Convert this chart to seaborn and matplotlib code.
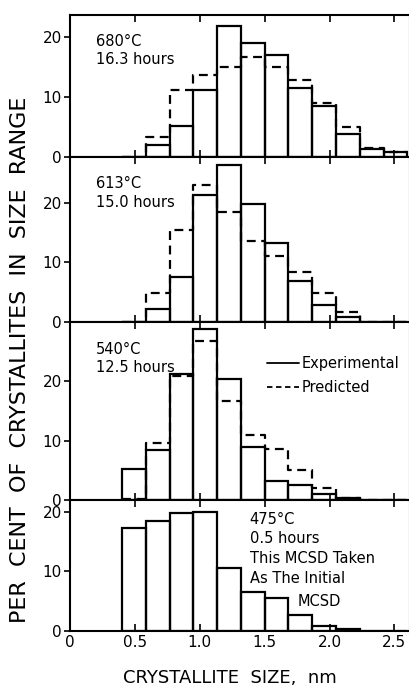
import numpy as np
import pandas as pd
import matplotlib
matplotlib.use("Agg")
import matplotlib.pyplot as plt
from matplotlib.lines import Line2D
import seaborn as sns

# size bins (nm), 12 equal bins from 0.4 to 2.6
bin_edges = np.linspace(0.4, 2.6, 13)
bin_centers = (bin_edges[:-1] + bin_edges[1:]) / 2

# per cent of crystallites in each size range
exp_680 = [0, 1.9, 5.1, 11.1, 21.9, 19.0, 17.1, 11.5, 8.4, 3.8, 1.2, 0.7]
pred_680 = [0, 3.2, 11.1, 13.6, 15.0, 16.7, 15.0, 12.9, 9.0, 4.9, 1.4, 0.8]
exp_613 = [0, 2.1, 7.6, 21.3, 26.3, 19.7, 13.2, 6.8, 2.9, 0.8, 0, 0]
pred_613 = [0, 4.9, 15.4, 22.9, 18.4, 13.6, 11.1, 8.3, 4.8, 1.6, 0, 0]
exp_540 = [5.2, 8.5, 21.2, 28.7, 20.4, 8.9, 3.2, 2.5, 1.0, 0.4, 0, 0]
pred_540 = [0.3, 9.6, 20.8, 26.7, 16.6, 11.0, 8.6, 5.1, 2.1, 0.4, 0, 0]
exp_475 = [17.3, 18.4, 19.7, 20.0, 10.5, 6.5, 5.6, 2.6, 0.9, 0.3, 0, 0]

panel_labels = ["680°C\n16.3 hours", "613°C\n15.0 hours", "540°C\n12.5 hours",
                "475°C\n0.5 hours\nThis MCSD Taken\nAs The Initial"]
y_tops = [23.7, 27.7, 29.9, 21.9]

panels = [(exp_680, pred_680), (exp_613, pred_613), (exp_540, pred_540), (exp_475, None)]

sns.set_style("ticks")
plt.rcParams["font.family"] = ["DejaVu Sans"]
plt.rcParams.update({"text.color": "black", "axes.labelcolor": "black",
                     "xtick.color": "black", "ytick.color": "black",
                     "axes.edgecolor": "black"})

fig = plt.figure(figsize=(4.1, 6.87), dpi=100)
gs = fig.add_gridspec(4, 1, height_ratios=y_tops, hspace=0,
                      left=0.171, right=1.0, top=0.978, bottom=0.0815)

label_y = [20.6, 24.4, 26.6]

axes = []
for i, (exp, pred) in enumerate(panels):
    ax = fig.add_subplot(gs[i])
    df = pd.DataFrame({"size": bin_centers, "exp": exp})
    sns.histplot(data=df, x="size", weights="exp", bins=12, binrange=(0.4, 2.6),
                 element="bars", fill=False, color="black", linewidth=1.6, ax=ax)
    if pred is not None:
        dfp = pd.DataFrame({"size": bin_centers, "pred": pred})
        sns.histplot(data=dfp, x="size", weights="pred", bins=12, binrange=(0.4, 2.6),
                     element="step", fill=False, color="black", linewidth=1.6,
                     linestyle=(0, (4, 2.5)), ax=ax)
    ax.set_xlim(0, 2.62)
    ax.set_ylim(0, y_tops[i])
    ax.set_xticks([0, 0.5, 1.0, 1.5, 2.0, 2.5])
    ax.set_yticks([0, 10, 20])
    ax.tick_params(axis="x", direction="in", top=True, length=5, width=1.2)
    ax.tick_params(axis="y", direction="out", length=4, width=1.2, labelsize=11, pad=2)
    ax.set_xlabel("")
    ax.set_ylabel("")
    for s in ax.spines.values():
        s.set_linewidth(1.5)
    if i < 3:
        ax.tick_params(axis="x", labelbottom=False)
        ax.text(0.2, label_y[i], panel_labels[i], fontsize=10.5,
                va="top", ha="left", linespacing=1.3)
    else:
        ax.text(1.385, 20.0, panel_labels[i], fontsize=10.5,
                va="top", ha="left", linespacing=1.4)
        ax.text(1.75, 6.2, "MCSD", fontsize=10.5, va="top", ha="left")
    axes.append(ax)

axes[3].set_xticklabels(["0", "0.5", "1.0", "1.5", "2.0", "2.5"])
axes[3].tick_params(axis="x", labelsize=11, pad=3)

handles = [Line2D([], [], color="black", linewidth=1.3),
           Line2D([], [], color="black", linewidth=1.3, linestyle=(0, (3, 2)))]
axes[2].legend(handles, ["Experimental", "Predicted"], frameon=False, fontsize=10.5,
               loc="upper left", bbox_to_anchor=(0.54, 0.88), handlelength=2.2,
               handletextpad=0.2, labelspacing=0.6)

fig.text(0.561, 0.006, "CRYSTALLITE  SIZE,  nm", fontsize=13, va="baseline", ha="center")
fig.text(0.048, 0.476, "PER  CENT  OF  CRYSTALLITES  IN  SIZE  RANGE", rotation=90,
         fontsize=16, va="center", ha="center")

fig.savefig("out.png", dpi=100)
